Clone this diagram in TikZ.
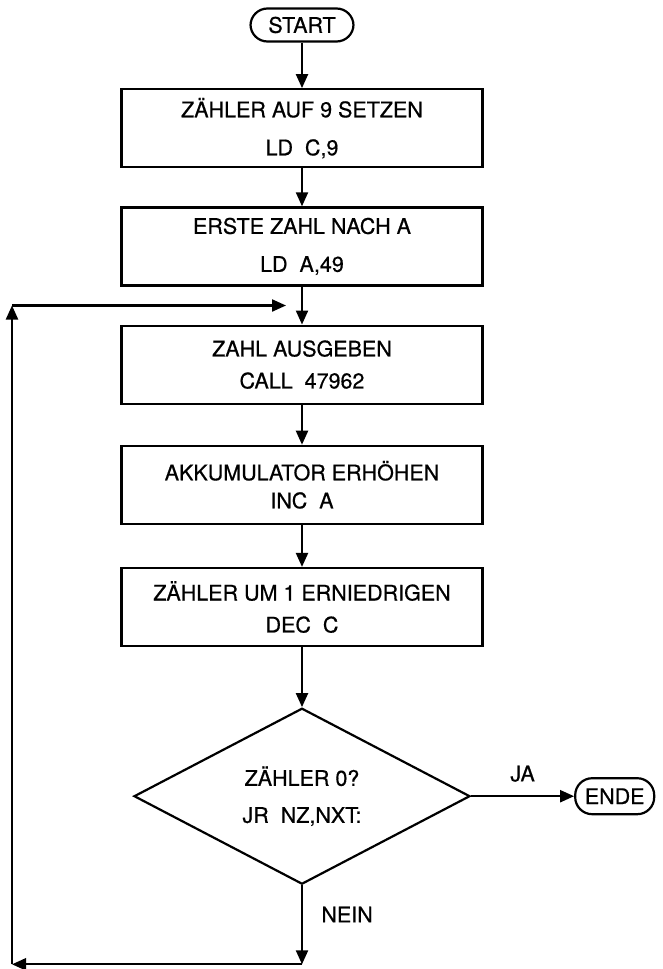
\documentclass[tikz,border=0pt]{standalone}
\usepackage{fontspec}
\setmainfont[FakeBold=0.6]{TeX Gyre Heros}
\usetikzlibrary{arrows.meta,positioning,shapes.geometric,calc}
\newcommand{\chartfont}{\fontsize{21.5}{26}\selectfont}

\begin{document}
\begin{tikzpicture}[
    x=1pt, y=1pt,
    stepbox/.style={rectangle, draw, line width=2.2pt, minimum width=361pt, minimum height=78pt, align=center, font=\chartfont},
    term/.style={rectangle, rounded corners=17pt, draw, line width=2.2pt, minimum height=33pt, inner xsep=0pt, font=\chartfont},
    test/.style={diamond, aspect=1.9, draw, line width=2.2pt, minimum width=336pt, minimum height=176pt, inner sep=0pt, align=center, font=\chartfont},
    arrow/.style={-{Triangle[length=14pt, width=12pt]}, line width=2.2pt},
    lbl/.style={font=\chartfont}
  ]
    \useasboundingbox (0,0) rectangle (663,-969);
    \node[term, minimum width=103pt] (start) at (302,-25) {START};
    \node[stepbox, below=45.5pt of start] (zset) {ZÄHLER AUF 9 SETZEN\\[12pt] LD~ C,9};
    \node[stepbox, below=38pt of zset] (ld) {ERSTE ZAHL NACH A\\[12pt] LD~ A,49};
    \node[stepbox, below=38pt of ld] (ausg) {ZAHL AUSGEBEN\\[6pt] CALL~ 47962};
    \node[stepbox, below=40pt of ausg] (inc) {AKKUMULATOR ERHÖHEN\\[2pt] INC~ A};
    \node[stepbox, below=42pt of inc] (dec) {ZÄHLER UM 1 ERNIEDRIGEN\\[6pt] DEC~ C};
    \node[test, below=60pt of dec] (test) {ZÄHLER 0?\\[11pt] JR~ NZ,NXT:};
    \node[term, minimum width=79pt, minimum height=36pt, right=103pt of test] (ende) {ENDE};
    % loop back
    \coordinate[below=79pt of test.south] (back);
    \coordinate (ledge) at (12,0);
    \coordinate (join) at ($(ld.south)!0.5!(ausg.north)+(-16,0)$);
    \coordinate (lowleft) at (back -| ledge);
    \coordinate (upleft) at (join -| ledge);
    \draw[arrow] (start) -- (zset);
    \draw[arrow] (zset) -- (ld);
    \draw[arrow] (ld) -- (ausg);
    \draw[arrow] (ausg) -- (inc);
    \draw[arrow] (inc) -- (dec);
    \draw[arrow] (dec) -- (test);
    \draw[arrow] (test) -- node[above=10pt, lbl]{JA} (ende);
    \draw[arrow] (test) -- node[pos=0.37, right=15pt, lbl]{NEIN} (back);
    \draw[arrow] (back) -- (lowleft);
    \draw[arrow] (lowleft) -- (upleft);
    \draw[arrow] (upleft) -- (join);
\end{tikzpicture}
\end{document}
